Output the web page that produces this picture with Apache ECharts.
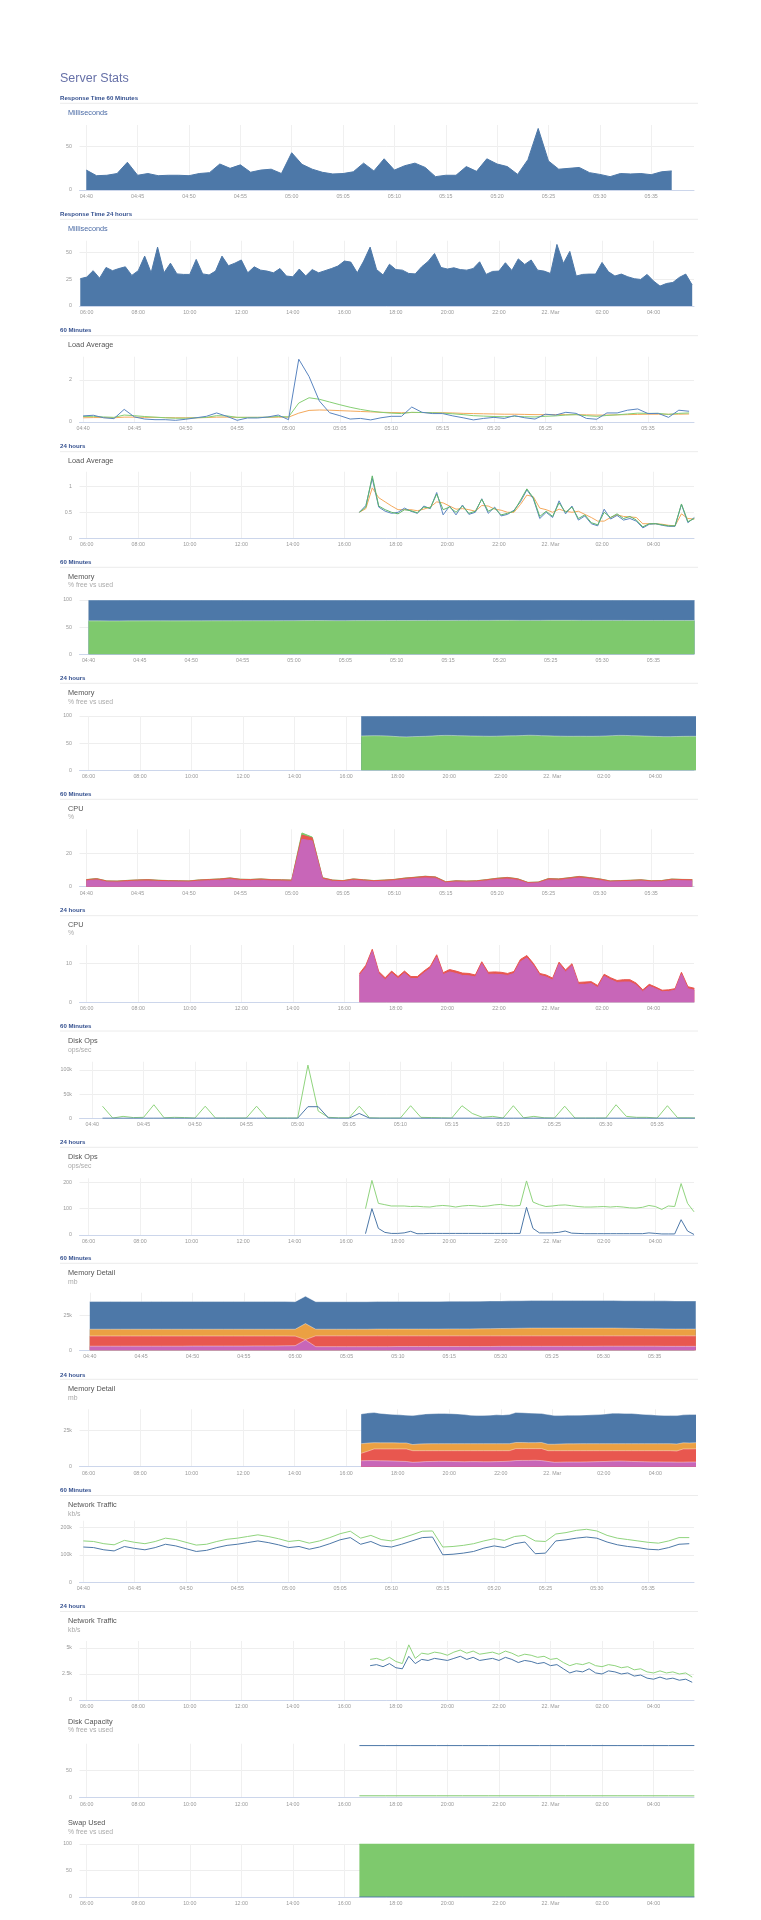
<!DOCTYPE html>
<html>
<head>
<meta charset="utf-8">
<title>Server Stats</title>
<script src="https://cdn.jsdelivr.net/npm/echarts@6/dist/echarts.min.js"></script>
<style>
  html, body { margin: 0; padding: 0; background: #fff; }
  #stats { width: 761px; height: 1920px; }
</style>
</head>
<body>
<div id="stats"></div>
<script>
// times are minutes after midnight of 21 Mar (values past 1440 fall on 22 Mar)
const ticks60 = [280, 285, 290, 295, 300, 305, 310, 315, 320, 325, 330, 335]
const labels60 = ['04:40', '04:45', '04:50', '04:55', '05:00', '05:05', '05:10', '05:15', '05:20', '05:25', '05:30', '05:35']
const ticks24 = [360, 480, 600, 720, 840, 960, 1080, 1200, 1320, 1440, 1560, 1680]
const labels24 = ['06:00', '08:00', '10:00', '12:00', '14:00', '16:00', '18:00', '20:00', '22:00', '22. Mar', '02:00', '04:00']

// response time (ms), 1 min from 04:40 / 15 min from 05:45
const rt60 = [23, 16.5, 17, 19, 32, 17, 19, 16.5, 17, 17, 16.5, 19, 20, 30, 25, 29, 20.5, 23, 24, 19,
  43, 29.6, 24, 20.4, 18.5, 19, 21, 31, 22, 36, 23, 28, 31, 26, 15.4, 17, 17, 27, 21.5, 36,
  30, 27, 18, 35, 71, 33.5, 24, 25, 26, 20, 18, 15.4, 19, 18.5, 19, 17.7, 21, 22]
const rt24 = [25.5, 27, 33, 26, 36, 33, 35, 36.6, 28.6, 33, 46.6, 31, 55, 31, 40, 30, 29.5, 29.5, 43.5, 30,
  29, 32.6, 46.6, 37.6, 40, 43, 31, 36.6, 33.5, 32.6, 31, 35, 28, 27.3, 34.5, 28, 34, 31, 33, 35,
  37.3, 42, 41, 31, 42, 55, 34, 29, 39, 34, 33.5, 30.4, 30, 36.6, 41.6, 49, 36, 34.5, 35.7, 34,
  33.5, 35, 41.3, 29.5, 32.3, 32.6, 40.4, 33.2, 44, 38.8, 43, 33.5, 32.6, 30.4, 57.5, 39.8, 51, 28, 29.5, 29.8,
  29.8, 40.7, 32, 28, 29.8, 27.3, 25.5, 24.8, 29.5, 23.3, 18.6, 21, 22, 26.7, 29.8, 19.6]

// load average 1 / 5 / 15 min
const load60One = [0.29, 0.32, 0.2, 0.16, 0.6, 0.24, 0.14, 0.11, 0.11, 0.08, 0.13, 0.2, 0.27, 0.43, 0.27, 0.08, 0.19, 0.19, 0.24, 0.33,
  0.11, 2.98, 2.16, 1.0, 0.44, 0.3, 0.14, 0.17, 0.1, 0.2, 0.27, 0.27, 0.71, 0.46, 0.4, 0.4, 0.29, 0.2, 0.1, 0.17,
  0.22, 0.17, 0.3, 0.2, 0.14, 0.37, 0.33, 0.46, 0.41, 0.17, 0.13, 0.43, 0.43, 0.56, 0.62, 0.4, 0.41, 0.22, 0.56, 0.51]
const load60Five = [0.26, 0.27, 0.24, 0.22, 0.33, 0.3, 0.26, 0.23, 0.2, 0.18, 0.18, 0.2, 0.22, 0.3, 0.29, 0.22, 0.22, 0.22, 0.23, 0.26,
  0.24, 0.9, 1.15, 1.08, 0.95, 0.82, 0.7, 0.6, 0.52, 0.46, 0.42, 0.4, 0.46, 0.45, 0.44, 0.42, 0.39, 0.35, 0.3, 0.28,
  0.26, 0.25, 0.27, 0.25, 0.24, 0.27, 0.29, 0.33, 0.35, 0.3, 0.27, 0.31, 0.34, 0.38, 0.42, 0.41, 0.41, 0.36, 0.41, 0.43]
const load60Fifteen = [0.2, 0.21, 0.21, 0.2, 0.23, 0.23, 0.22, 0.22, 0.21, 0.2, 0.2, 0.2, 0.21, 0.23, 0.23, 0.22, 0.22, 0.22, 0.22, 0.23,
  0.23, 0.42, 0.55, 0.57, 0.56, 0.54, 0.52, 0.5, 0.48, 0.46, 0.45, 0.44, 0.45, 0.45, 0.44, 0.44, 0.43, 0.41, 0.4, 0.39,
  0.38, 0.37, 0.37, 0.36, 0.35, 0.35, 0.35, 0.35, 0.35, 0.34, 0.33, 0.33, 0.34, 0.35, 0.36, 0.37, 0.37, 0.37, 0.37, 0.38]
const load24One = [0.5, 0.63, 1.15, 0.6, 0.52, 0.48, 0.5, 0.58, 0.52, 0.48, 0.62, 0.57, 0.88, 0.45, 0.62, 0.45, 0.64, 0.46, 0.5, 0.76,
  0.48, 0.6, 0.43, 0.46, 0.54, 0.7, 0.93, 0.76, 0.38, 0.5, 0.4, 0.72, 0.47, 0.62, 0.35, 0.43, 0.28, 0.24, 0.56, 0.37,
  0.44, 0.35, 0.38, 0.33, 0.2, 0.27, 0.28, 0.25, 0.23, 0.23, 0.65, 0.3, 0.4]
const load24Five = [0.5, 0.6, 1.2, 0.62, 0.55, 0.5, 0.47, 0.55, 0.53, 0.49, 0.6, 0.58, 0.85, 0.55, 0.6, 0.5, 0.62, 0.48, 0.52, 0.75,
  0.52, 0.58, 0.45, 0.48, 0.52, 0.73, 0.95, 0.78, 0.42, 0.52, 0.42, 0.68, 0.5, 0.6, 0.38, 0.45, 0.3, 0.26, 0.5, 0.4,
  0.47, 0.38, 0.42, 0.35, 0.22, 0.28, 0.28, 0.26, 0.24, 0.24, 0.66, 0.32, 0.38]
const load24Fifteen = [0.5, 0.57, 0.97, 0.78, 0.7, 0.62, 0.55, 0.55, 0.55, 0.53, 0.56, 0.6, 0.7, 0.68, 0.62, 0.56, 0.57, 0.55, 0.52, 0.63,
  0.62, 0.56, 0.54, 0.5, 0.5, 0.65, 0.83, 0.8, 0.58, 0.55, 0.5, 0.56, 0.52, 0.5, 0.52, 0.46, 0.4, 0.33, 0.33, 0.4,
  0.45, 0.42, 0.41, 0.4, 0.28, 0.28, 0.28, 0.27, 0.25, 0.24, 0.47, 0.38, 0.37]

// memory % used / free
const mem60Used = [61.6, 61.6, 61.5, 61.5, 61.6, 61.6, 61.7, 61.7, 61.6, 61.6, 61.7, 61.7, 61.8, 61.8, 61.8, 61.9, 61.9, 61.9, 61.9, 62.0,
  62.0, 62.1, 62.2, 62.1, 62.0, 62.0, 62.1, 62.1, 62.1, 62.2, 62.2, 62.2, 62.3, 62.3, 62.3, 62.3, 62.4, 62.4, 62.4, 62.4,
  62.5, 62.5, 62.4, 62.4, 62.4, 62.5, 62.5, 62.5, 62.4, 62.4, 62.4, 62.4, 62.4, 62.3, 62.3, 62.3, 62.3, 62.3, 62.3, 62.3]
const mem60Free = [38.4, 38.4, 38.5, 38.5, 38.4, 38.4, 38.3, 38.3, 38.4, 38.4, 38.3, 38.3, 38.2, 38.2, 38.2, 38.1, 38.1, 38.1, 38.1, 38.0,
  38.0, 37.9, 37.8, 37.9, 38.0, 38.0, 37.9, 37.9, 37.9, 37.8, 37.8, 37.8, 37.7, 37.7, 37.7, 37.7, 37.6, 37.6, 37.6, 37.6,
  37.5, 37.5, 37.6, 37.6, 37.6, 37.5, 37.5, 37.5, 37.6, 37.6, 37.6, 37.6, 37.6, 37.7, 37.7, 37.7, 37.7, 37.7, 37.7, 37.7]
const mem24Used = [63.2, 63.5, 63.8, 63.6, 63.3, 62.5, 61.8, 61.5, 62.0, 62.3, 62.6, 63.2, 63.9, 64.3, 64.2, 63.8, 63.5, 63.2, 63.0, 62.8,
  62.6, 62.8, 63.2, 63.5, 63.6, 64.0, 64.5, 64.3, 63.8, 63.4, 63.0, 62.8, 62.6, 62.6, 62.7, 62.6, 62.6, 62.8, 63.2, 63.8,
  64.3, 64.2, 63.8, 63.4, 63.0, 62.6, 62.3, 62.0, 62.0, 62.2, 62.5, 62.6, 62.6]
const mem24Free = [36.8, 36.5, 36.2, 36.4, 36.7, 37.5, 38.2, 38.5, 38.0, 37.7, 37.4, 36.8, 36.1, 35.7, 35.8, 36.2, 36.5, 36.8, 37.0, 37.2,
  37.4, 37.2, 36.8, 36.5, 36.4, 36.0, 35.5, 35.7, 36.2, 36.6, 37.0, 37.2, 37.4, 37.4, 37.3, 37.4, 37.4, 37.2, 36.8, 36.2,
  35.7, 35.8, 36.2, 36.6, 37.0, 37.4, 37.7, 38.0, 38.0, 37.8, 37.5, 37.4, 37.4]

// cpu %
const cpu60User = [3.5, 4.0, 2.8, 2.7, 3.0, 3.3, 3.4, 3.1, 3.0, 2.9, 2.8, 3.3, 3.6, 3.8, 4.4, 3.7, 3.6, 3.8, 3.5, 3.4,
  3.2, 28.5, 27.5, 4.5, 3.2, 3.0, 3.8, 3.4, 3.0, 3.2, 3.6, 4.3, 4.8, 5.3, 5.0, 2.3, 2.8, 2.7, 2.9, 3.5,
  4.2, 4.6, 3.9, 2.0, 2.2, 4.0, 3.8, 4.5, 5.2, 4.6, 3.8, 2.8, 3.0, 3.1, 3.4, 2.9, 3.0, 3.8, 3.6, 3.5]
const cpu60System = [0.7, 0.8, 0.6, 0.6, 0.7, 0.7, 0.8, 0.7, 0.6, 0.6, 0.6, 0.7, 0.7, 0.8, 0.8, 0.7, 0.7, 0.8, 0.7, 0.7,
  0.7, 2.5, 1.8, 0.8, 0.7, 0.6, 0.8, 0.7, 0.6, 0.7, 0.7, 0.8, 0.8, 0.9, 0.8, 0.6, 0.7, 0.6, 0.6, 0.7,
  0.8, 0.9, 0.8, 0.5, 0.5, 0.8, 0.8, 0.8, 0.9, 0.8, 0.8, 0.6, 0.6, 0.7, 0.7, 0.6, 0.6, 0.7, 0.7, 0.7]
const cpu60Other = [0.1, 0.1, 0.1, 0.1, 0.1, 0.1, 0.1, 0.1, 0.1, 0.1, 0.1, 0.1, 0.1, 0.1, 0.1, 0.1, 0.1, 0.1, 0.1, 0.1,
  0.1, 1.3, 0.5, 0.1, 0.1, 0.1, 0.1, 0.1, 0.1, 0.1, 0.1, 0.1, 0.1, 0.1, 0.1, 0.1, 0.1, 0.1, 0.1, 0.1,
  0.1, 0.1, 0.1, 0.1, 0.1, 0.1, 0.1, 0.1, 0.1, 0.1, 0.1, 0.1, 0.1, 0.1, 0.1, 0.1, 0.1, 0.1, 0.1, 0.1]
const cpu24User = [6.85, 8.9, 13.1, 7.4, 5.8, 7.5, 6.1, 7.5, 6.1, 6.1, 7.5, 8.7, 11.6, 7.1, 7.8, 7.4, 6.9, 6.8, 6.5, 9.9,
  7.2, 7.2, 7.1, 6.9, 7.4, 10.4, 11.4, 9.5, 6.9, 6.5, 5.7, 9.8, 7.8, 9.4, 4.6, 4.6, 4.8, 3.8, 6.7, 5.8,
  5.1, 5.2, 5.2, 4.4, 2.8, 4.1, 3.5, 2.7, 2.8, 3.1, 7.2, 3.5, 3.1]
const cpu24System = [0.5, 0.6, 0.5, 0.5, 0.5, 0.5, 0.5, 0.5, 0.5, 0.5, 0.5, 0.5, 0.6, 0.5, 0.6, 0.6, 0.6, 0.6, 0.5, 0.5,
  0.5, 0.6, 0.6, 0.5, 0.5, 0.6, 0.6, 0.5, 0.5, 0.5, 0.5, 0.5, 0.5, 0.5, 0.5, 0.6, 0.5, 0.5, 0.5, 0.5,
  0.5, 0.6, 0.6, 0.5, 0.4, 0.5, 0.4, 0.4, 0.4, 0.4, 0.5, 0.5, 0.5]

// disk ops (60 min in thousands, from 04:41)
const disk60Read = [25, 0.5, 4, 1.5, 2, 28, 1, 2, 1.5, 0.5, 25, 0.5, 0.5, 0.5, 0.5, 25, 0.5, 0.5, 0.5, 0.5,
  110, 15, 2, 1, 1, 25, 1, 0.5, 0.5, 0.5, 26, 2, 1.5, 1, 0.5, 26, 10, 2, 4, 0.5,
  26, 1, 4, 1, 0.5, 25, 0.5, 0.5, 0.5, 0.5, 28, 4, 2, 2, 0.5, 26, 1, 1, 0.5]
const disk60Write = [0.2, 0.2, 0.2, 0.2, 0.2, 0.2, 0.2, 0.2, 0.2, 0.2, 0.2, 0.2, 0.2, 0.2, 0.2, 0.2, 0.2, 0.2, 0.2, 0.2,
  24, 24, 0.5, 0.2, 0.2, 10, 0.3, 0.2, 0.2, 0.2, 0.2, 0.2, 0.2, 0.2, 0.2, 0.2, 0.2, 0.2, 0.2, 0.2,
  0.2, 0.2, 0.2, 0.2, 0.2, 0.2, 0.2, 0.2, 0.2, 0.2, 0.2, 0.2, 0.2, 0.2, 0.2, 0.2, 0.2, 0.2, 0.2]
const disk24Read = [100, 207, 120, 115, 110, 110, 110, 108, 109, 107, 106, 110, 112, 110, 106, 110, 112, 111, 108, 110,
  114, 116, 112, 110, 112, 205, 125, 115, 108, 110, 113, 114, 111, 108, 106, 106, 107, 108, 106, 108,
  106, 103, 102, 105, 112, 108, 97, 110, 108, 195, 120, 88]
const disk24Write = [5, 100, 25, 10, 6, 6, 8, 14, 5, 5, 6, 6, 6, 6, 6, 6, 6, 6, 6, 6,
  6, 6, 6, 6, 6, 105, 25, 8, 8, 8, 10, 15, 7, 6, 5, 5, 5, 5, 5, 5,
  5, 5, 5, 5, 8, 6, 4, 4, 4, 58, 15, 2]

// memory detail (thousands of mb), layers bottom to top
const md60A = [2.9, 2.9, 2.9, 2.9, 2.9, 2.9, 2.9, 2.9, 2.9, 2.9, 3.0, 3.0, 3.0, 3.0, 3.0, 3.0, 3.1, 3.1, 3.1, 3.2,
  3.3, 7.4, 2.6, 2.6, 2.6, 2.6, 2.6, 2.6, 2.6, 2.6, 2.7, 2.7, 2.7, 2.7, 2.7, 2.7, 2.7, 2.7, 2.7, 2.7,
  2.8, 2.8, 2.8, 2.8, 2.8, 2.8, 2.8, 2.8, 2.8, 2.8, 2.9, 2.9, 2.9, 2.9, 2.9, 2.9, 2.8, 2.8, 2.8, 2.8]
const md60B = [7.3, 7.3, 7.3, 7.3, 7.3, 7.3, 7.3, 7.3, 7.3, 7.3, 7.2, 7.2, 7.2, 7.2, 7.2, 7.2, 7.1, 7.1, 7.1, 7.0,
  6.8, 0.2, 7.7, 7.7, 7.7, 7.7, 7.7, 7.7, 7.7, 7.7, 7.6, 7.6, 7.6, 7.6, 7.6, 7.6, 7.6, 7.6, 7.6, 7.6,
  7.5, 7.5, 7.5, 7.5, 7.5, 7.5, 7.5, 7.5, 7.5, 7.5, 7.4, 7.4, 7.4, 7.4, 7.4, 7.4, 7.5, 7.5, 7.5, 7.5]
const md60C = [4.8, 4.8, 4.8, 4.8, 4.8, 4.8, 4.8, 4.8, 4.8, 4.8, 4.8, 4.8, 4.8, 4.8, 4.8, 4.8, 4.8, 4.8, 4.8, 4.8,
  4.9, 11.4, 4.7, 4.7, 4.7, 4.7, 4.7, 4.7, 4.8, 4.8, 4.8, 4.8, 4.8, 4.8, 4.8, 4.9, 4.9, 4.9, 5.0, 5.1,
  5.2, 5.3, 5.4, 5.5, 5.5, 5.5, 5.5, 5.5, 5.5, 5.5, 5.5, 5.5, 5.4, 5.3, 5.1, 5.0, 4.9, 4.8, 4.8, 4.8]
const md60D = [19.7, 19.7, 19.7, 19.7, 19.7, 19.7, 19.7, 19.7, 19.7, 19.7, 19.7, 19.7, 19.7, 19.7, 19.7, 19.7, 19.7, 19.7, 19.7, 19.7,
  19.6, 19.5, 19.6, 19.6, 19.6, 19.6, 19.6, 19.6, 19.6, 19.6, 19.7, 19.7, 19.7, 19.7, 19.7, 19.7, 19.7, 19.7, 19.7, 19.7,
  19.6, 19.6, 19.6, 19.6, 19.6, 19.6, 19.6, 19.6, 19.6, 19.6, 19.6, 19.6, 19.6, 19.7, 19.8, 19.9, 20.0, 20.0, 20.0, 20.0]
const md24A = [4.1, 4.2, 4.2, 4.1, 4.0, 3.9, 3.7, 3.6, 3.0, 3.2, 3.5, 3.6, 3.7, 3.7, 3.6, 3.5, 3.4, 3.5, 3.5, 3.4,
  3.4, 3.5, 3.6, 3.8, 4.2, 4.3, 4.3, 4.4, 4.2, 3.6, 3.0, 3.1, 3.2, 3.2, 3.2, 3.3, 3.4, 3.5, 3.6, 3.8,
  3.9, 3.8, 3.6, 3.5, 3.4, 3.3, 3.3, 3.2, 3.2, 3.1, 3.1, 3.2, 3.2]
const md24B = [5.1, 6.4, 8.0, 8.1, 8.2, 8.3, 8.5, 8.6, 8.0, 7.8, 7.5, 7.4, 7.3, 7.3, 7.4, 7.5, 7.6, 7.5, 7.5, 7.6,
  7.6, 7.5, 7.4, 7.2, 8.2, 8.1, 8.1, 8.0, 8.2, 7.4, 8.0, 7.9, 7.8, 7.8, 7.8, 7.7, 7.6, 7.5, 7.4, 7.2,
  7.1, 7.2, 7.4, 7.5, 7.6, 7.7, 7.7, 7.8, 7.8, 7.7, 9.1, 9.0, 9.1]
const md24C = [6.6, 5.6, 4.3, 4.2, 4.2, 4.2, 4.1, 4.1, 4.2, 4.6, 4.7, 4.8, 4.8, 4.8, 4.8, 4.8, 4.8, 4.8, 4.8, 4.8,
  4.8, 4.8, 4.8, 4.8, 4.2, 4.2, 4.1, 4.1, 4.2, 4.4, 4.4, 4.6, 4.7, 4.7, 4.8, 4.8, 4.8, 4.8, 4.8, 4.8,
  4.8, 4.8, 4.8, 4.8, 4.8, 4.8, 4.8, 4.8, 4.8, 4.8, 4.2, 4.1, 4.2]
const md24D = [20.4, 20.6, 20.7, 20.2, 19.8, 19.5, 19.3, 19.1, 19.9, 20.0, 20.5, 20.6, 20.7, 20.7, 20.6, 20.4, 20.0, 19.5, 19.3, 19.4,
  19.6, 19.8, 19.7, 20.0, 20.6, 20.5, 20.3, 20.2, 19.9, 20.4, 19.7, 19.5, 19.6, 19.6, 19.6, 19.7, 19.8, 20.0, 20.4, 20.9,
  20.9, 20.7, 20.7, 20.4, 20.1, 19.8, 19.6, 19.4, 19.3, 19.5, 19.2, 19.5, 19.4]

// network traffic (thousands of kb/s)
const net60In = [150, 148, 140, 136, 152, 145, 140, 148, 160, 155, 145, 135, 138, 148, 156, 160, 166, 172, 166, 158,
  148, 152, 142, 150, 162, 176, 185, 160, 170, 155, 150, 160, 172, 185, 186, 128, 130, 134, 140, 150,
  158, 152, 166, 170, 150, 148, 175, 180, 188, 192, 186, 170, 160, 155, 150, 145, 142, 150, 162, 162]
const net60Out = [128, 126, 118, 114, 130, 123, 118, 126, 138, 132, 122, 112, 116, 126, 134, 138, 144, 150, 144, 136,
  126, 130, 120, 128, 140, 154, 162, 138, 148, 132, 128, 138, 150, 162, 164, 100, 102, 106, 112, 124,
  132, 126, 140, 146, 104, 106, 150, 154, 160, 164, 160, 146, 136, 130, 126, 120, 118, 126, 138, 140]
const net24In = [3.9, 4.0, 3.8, 4.1, 3.7, 3.5, 5.3, 4.0, 4.5, 4.4, 4.6, 4.5, 4.3, 4.6, 4.8, 4.5, 4.7, 4.4, 4.5, 4.6,
  4.4, 4.7, 4.5, 4.2, 4.4, 4.3, 4.1, 4.2, 3.9, 4.0, 3.6, 3.3, 3.5, 3.4, 3.6, 3.3, 3.2, 3.4, 3.3, 3.1,
  3.2, 2.9, 3.0, 2.7, 2.6, 2.8, 2.6, 2.7, 2.5, 2.6, 2.2]
const net24Out = [3.3, 3.4, 3.2, 3.5, 3.1, 3.0, 4.2, 3.5, 3.9, 3.8, 4.0, 3.9, 3.8, 4.0, 4.2, 3.9, 4.1, 3.8, 3.9, 4.0,
  3.8, 4.1, 3.9, 3.6, 3.8, 3.7, 3.5, 3.6, 3.3, 3.4, 3.0, 2.6, 2.8, 2.7, 3.0, 2.6, 2.5, 2.8, 2.7, 2.5,
  2.6, 2.3, 2.4, 2.1, 2.0, 2.2, 2.0, 2.1, 1.9, 2.0, 1.7]

// disk capacity and swap, hourly from 16:35
const capFree = [96.5, 96.5, 96.5, 96.5, 96.5, 96.5, 96.5, 96.5, 96.5, 96.5, 96.5, 96.5, 96.5, 96.6]
const capUsed = [3.5, 3.5, 3.5, 3.5, 3.5, 3.5, 3.5, 3.5, 3.5, 3.5, 3.5, 3.5, 3.5, 3.4]
const swapUsed = [0, 0, 0, 0, 0, 0, 0, 0, 0, 0, 0, 0, 0, 0]
const swapFree = [100, 100, 100, 100, 100, 100, 100, 100, 100, 100, 100, 100, 100, 100]

const FONT = '"Liberation Sans", Arial, sans-serif'
const BLUE = '#4d78a8'
const GREEN = '#7ec96d'
const MAGENTA = '#c866b8'
const RED = '#e8574f'
const ORANGE = '#eba043'
const EDGE = 'rgba(255,255,255,0.5)'

// series points: start and step in minutes
const pts = (start, step, values) => values.map((v, i) => [start + i * step, v])

const area = (name, color, start, step, values, edge) => ({
  name, type: 'line', symbol: 'none', data: pts(start, step, values),
  itemStyle: { color },
  lineStyle: { width: edge ? 0.8 : 1, color: edge || color },
  areaStyle: { color, opacity: 1 }
})

const line = (name, color, start, step, values) => ({
  name, type: 'line', symbol: 'none', data: pts(start, step, values),
  itemStyle: { color },
  lineStyle: { width: 1, color }
})

// stacked areas: running totals of the layers (bottom first), painted top layer first
const stack = (start, step, layers, edge) => {
  let run = layers[0][2].map(() => 0)
  const out = layers.map(([name, color, values]) => {
    run = run.map((s, i) => +(s + values[i]).toFixed(3))
    return area(name, color, start, step, run, edge)
  })
  return out.reverse()
}

const kFmt = (v) => (v === 0 ? '0' : v + 'k')

const panels = [
  { header: 'Response Time 60 Minutes', hy: 98, sep: 103.3, title: 'Milliseconds', blueTitle: true, ty: 112.7,
    top: 125, bottom: 190, span: 60, xMin: 279.34, yMax: 75, yTicks: [0, 50],
    series: [area('Response time', BLUE, 280, 1, rt60)] },
  { header: 'Response Time 24 hours', hy: 214.7, sep: 219.3, title: 'Milliseconds', blueTitle: true, ty: 229,
    top: 240.7, bottom: 306, span: 24, xMin: 343.2, yMax: 61, yTicks: [0, 25, 50],
    series: [area('Response time', BLUE, 345, 15, rt24)] },
  { header: '60 Minutes', hy: 330.7, sep: 335.7, title: 'Load Average', ty: 345,
    top: 356.7, bottom: 422, span: 60, xMin: 279.65, yMax: 3.1, yTicks: [0, 2],
    series: [line('15 min', '#f4a95c', 280, 1, load60Fifteen), line('5 min', '#86cf74', 280, 1, load60Five),
      line('1 min', '#5a85c0', 280, 1, load60One)] },
  { header: '24 hours', hy: 446.3, sep: 451.7, title: 'Load Average', ty: 460.7,
    top: 471.7, bottom: 538.3, span: 24, xMin: 343.2, yMax: 1.28, yTicks: [0, 0.5, 1],
    series: [line('15 min', '#f4a95c', 995, 15, load24Fifteen), line('1 min', '#5a85c0', 995, 15, load24One),
      line('5 min', '#5fb56a', 995, 15, load24Five)] },
  { header: '60 Minutes', hy: 562.7, sep: 567.3, title: 'Memory', sub: '% free vs used', ty: 576.7, sy: 585.3,
    top: 600, bottom: 654.3, span: 60, xMin: 279.12, yMax: 100, yTicks: [0, 50, 100],
    series: stack(280, 1, [['Used', GREEN, mem60Used], ['Free', BLUE, mem60Free]], EDGE) },
  { header: '24 hours', hy: 678.7, sep: 683.3, title: 'Memory', sub: '% free vs used', ty: 692.7, sy: 701.7,
    top: 716, bottom: 770.3, span: 24, xMin: 339, yMax: 100, yTicks: [0, 50, 100],
    series: stack(995, 15, [['Used', GREEN, mem24Used], ['Free', BLUE, mem24Free]], EDGE) },
  { header: '60 Minutes', hy: 794.7, sep: 799.3, title: 'CPU', sub: '%', ty: 809, sy: 817.3,
    top: 829.3, bottom: 886.7, span: 60, xMin: 279.34, yMax: 34.5, yTicks: [0, 20],
    series: stack(280, 1, [['User', MAGENTA, cpu60User], ['System', RED, cpu60System], ['Other', GREEN, cpu60Other]]) },
  { header: '24 hours', hy: 910.7, sep: 915.7, title: 'CPU', sub: '%', ty: 925, sy: 933.3,
    top: 945, bottom: 1002.3, span: 24, xMin: 343.2, yMax: 14.7, yTicks: [0, 10],
    series: stack(995, 15, [['User', MAGENTA, cpu24User], ['System', RED, cpu24System]]) },
  { header: '60 Minutes', hy: 1026, sep: 1031, title: 'Disk Ops', sub: 'ops/sec', ty: 1040.7, sy: 1049.7,
    top: 1061.7, bottom: 1118.3, span: 60, xMin: 278.76, yMax: 117, yTicks: [0, 50, 100], yFmt: kFmt,
    series: [line('Read', '#90d47e', 281, 1, disk60Read), line('Write', BLUE, 281, 1, disk60Write)] },
  { header: '24 hours', hy: 1142.7, sep: 1147.3, title: 'Disk Ops', sub: 'ops/sec', ty: 1156.7, sy: 1165.7,
    top: 1178.3, bottom: 1235, span: 24, xMin: 339, yMax: 215, yTicks: [0, 100, 200],
    series: [line('Read', '#90d47e', 1005, 15, disk24Read), line('Write', BLUE, 1005, 15, disk24Write)] },
  { header: '60 Minutes', hy: 1258, sep: 1263.3, title: 'Memory Detail', sub: 'mb', ty: 1273, sy: 1282,
    top: 1292.7, bottom: 1350.3, span: 60, xMin: 279.0, yMax: 41, yTicks: [0, 25], yFmt: kFmt,
    series: stack(280, 1, [['A', MAGENTA, md60A], ['B', RED, md60B], ['C', ORANGE, md60C], ['D', BLUE, md60D]], EDGE) },
  { header: '24 hours', hy: 1375, sep: 1379.3, title: 'Memory Detail', sub: 'mb', ty: 1389, sy: 1398,
    top: 1409.3, bottom: 1466.7, span: 24, xMin: 339, yMax: 39.4, yTicks: [0, 25], yFmt: kFmt,
    series: stack(995, 15, [['A', MAGENTA, md24A], ['B', RED, md24B], ['C', ORANGE, md24C], ['D', BLUE, md24D]], EDGE) },
  { header: '60 Minutes', hy: 1490, sep: 1495.5, title: 'Network Traffic', sub: 'kb/s', ty: 1505, sy: 1514.6,
    top: 1520.7, bottom: 1582.5, span: 60, xMin: 279.63, yMax: 223, yTicks: [0, 100, 200], yFmt: kFmt,
    series: [line('In', '#90d47e', 280, 1, net60In), line('Out', BLUE, 280, 1, net60Out)] },
  { header: '24 hours', hy: 1606.5, sep: 1611.5, title: 'Network Traffic', sub: 'kb/s', ty: 1621, sy: 1630.5,
    top: 1641, bottom: 1700, span: 24, xMin: 343.2, yMax: 5.67, yTicks: [0, 2.5, 5], yFmt: kFmt,
    series: [line('In', '#90d47e', 1020, 15, net24In), line('Out', BLUE, 1020, 15, net24Out)] },
  { title: 'Disk Capacity', sub: '% free vs used', ty: 1721.7, sy: 1730.5,
    top: 1743.7, bottom: 1797.7, span: 24, xMin: 343.2, yMax: 100, yTicks: [0, 50],
    series: [line('Free', BLUE, 995, 60, capFree), line('Used', GREEN, 995, 60, capUsed)] },
  { title: 'Swap Used', sub: '% free vs used', ty: 1823.4, sy: 1832,
    top: 1844, bottom: 1897, span: 24, xMin: 343.2, yMax: 100, yTicks: [0, 50, 100],
    series: stack(995, 60, [['Used', BLUE, swapUsed], ['Free', GREEN, swapFree]]) }
]

const grids = []
const xAxes = []
const yAxes = []
const series = []
const graphics = []

const text = (str, x, y, fill, size, weight) => ({
  type: 'text', x, y, silent: true,
  style: { text: str, fill, fontSize: size, fontWeight: weight || 'normal', fontFamily: FONT, verticalAlign: 'middle' }
})

graphics.push(text('Server Stats', 60, 79, '#6771a8', 12.5))

panels.forEach((p, i) => {
  const long = p.span === 24
  const xt = long ? ticks24 : ticks60
  const xl = long ? labels24 : labels60
  grids.push({ left: 79.5, width: 614.5, top: p.top, height: p.bottom - p.top, outerBoundsMode: 'none' })
  xAxes.push({
    gridIndex: i, type: 'value', min: p.xMin, max: p.xMin + (long ? 1431 : 59.83),
    axisLine: { lineStyle: { color: '#ccd6eb', width: 1 } },
    axisTick: { show: false, customValues: xt },
    axisLabel: { customValues: xt, formatter: (v) => xl[xt.indexOf(v)] || '', color: '#999', fontSize: 5.3, fontFamily: FONT, margin: 4 },
    splitLine: { show: true, lineStyle: { color: '#f0f0f0', width: 1 } }
  })
  yAxes.push({
    gridIndex: i, type: 'value', min: 0, max: p.yMax,
    axisLine: { show: false },
    axisTick: { show: false, customValues: p.yTicks },
    axisLabel: { customValues: p.yTicks, formatter: p.yFmt || ((v) => String(v)), color: '#999', fontSize: 5.3, fontFamily: FONT, margin: 7.5 },
    splitLine: { show: true, lineStyle: { color: '#eeeeee', width: 1 } }
  })
  if (p.header) {
    graphics.push(text(p.header, 60, p.hy, '#34508f', 6.1, 'bold'))
    graphics.push({ type: 'line', silent: true, shape: { x1: 60, y1: p.sep, x2: 698, y2: p.sep }, style: { stroke: '#ececec', lineWidth: 1 } })
  }
  graphics.push(text(p.title, 68, p.ty, p.blueTitle ? '#4a6aa5' : '#555', 7.3))
  if (p.sub) graphics.push(text(p.sub, 68, p.sy, '#aaa', 6.8))
  p.series.forEach((s) => series.push({ ...s, xAxisIndex: i, yAxisIndex: i }))
})

const chart = echarts.init(document.getElementById('stats'))
chart.setOption({
  animation: false,
  backgroundColor: '#fff',
  grid: grids,
  xAxis: xAxes,
  yAxis: yAxes,
  series,
  graphic: graphics
})
</script>
</body>
</html>
